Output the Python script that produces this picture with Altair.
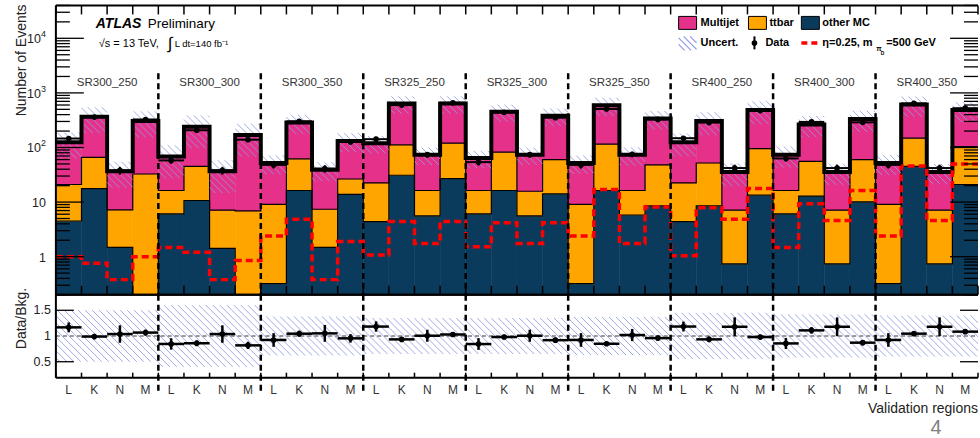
import math
import altair as alt
import pandas as pd

# ---------------------------------------------------------------------------
# Validation-region yields: four bins (L, K, N, M) per signal region
# ---------------------------------------------------------------------------
regions = ["SR300_250", "SR300_300", "SR300_350",
           "SR325_250", "SR325_300", "SR325_350",
           "SR400_250", "SR400_300", "SR400_350"]
bin_labels = ["L", "K", "N", "M"]

multijet = [104, 299, 29.4, 273, 52.3, 196, 29.5, 163, 42.9, 226, 31.6, 105.5,
            97.6, 528, 57.3, 520, 47.7, 369, 57.8, 322, 42.9, 482, 57.3, 293,
            102.6, 254, 28.5, 389, 57.3, 209.4, 28.5, 272, 42.9, 465, 28.5, 380]
ttbar = [16.5, 48.3, 5.72, 32.6, 10.2, 34.3, 5.68, 6.8, 8.78, 45.7, 5.92, 12.7,
         18, 81, 10.7, 93, 10.2, 65.7, 10.2, 45.8, 8.78, 98.7, 10.5, 39.5,
         18, 43.5, 6.36, 81.6, 10.2, 42.7, 6.36, 49.9, 8.78, 103, 6.36, 83]
other_mc = [4.5, 17.7, 1.48, 0.1, 6.1, 10.7, 1.42, 0.1, 0.32, 16.3, 1.48, 13.8,
            4.4, 31, 5.6, 27, 6.1, 16.3, 5.6, 14.2, 0.32, 16.3, 5.8, 8.5,
            4.4, 8.5, 0.74, 13.4, 6.1, 12.9, 0.74, 10.1, 0.32, 45, 0.74, 21]
# signal: eta = 0.25, m(pi_D) = 500 GeV
signal = [1.0, 0.76, 0.38, 1.0, 1.48, 1.2, 0.38, 0.85, 2.4, 4.85, 0.38, 1.9,
          1.07, 4.4, 1.75, 4.4, 1.52, 4.2, 1.75, 4.2, 2.4, 17, 1.75, 8.1,
          1.04, 7.9, 4.85, 17.7, 1.48, 9.3, 4.6, 16.3, 2.4, 46, 4.6, 50]
data_obs = [146, 361, 38, 326, 58, 207, 38, 139, 48, 301, 41, 126,
            142, 598, 74, 659, 54, 442, 74, 351, 48, 507, 75, 327,
            148, 286, 42, 474, 63, 294, 42, 289, 48, 641, 42, 525]
data_err = [12, 19, 6.2, 18, 7.6, 14, 6.2, 12, 6.9, 17, 6.4, 11,
            12, 24, 8.6, 26, 7.3, 21, 8.6, 19, 6.9, 23, 8.7, 18,
            12, 17, 6.5, 22, 7.9, 17, 6.5, 17, 6.9, 25, 6.5, 23]
# relative background uncertainty, one value per signal region
bkg_unc = [0.5, 0.6, 0.38, 0.35, 0.35, 0.37, 0.45, 0.42, 0.4]

# ---------------------------------------------------------------------------
# Geometry and style
# ---------------------------------------------------------------------------
n_bins = len(multijet)
W, H, HR = 924, 290, 83
Y_MIN, Y_MAX = 0.2, 4.0e4
R_MIN, R_MAX = 0.19, 1.8
BW = W / n_bins
LOG_HI = math.log10(Y_MAX)
LOG_SPAN = LOG_HI - math.log10(Y_MIN)

FONT = "Liberation Sans"
PINK = "#e6318a"
ORANGE = "#fea500"
NAVY = "#0b3b5c"
HATCH = "#8e99e2"
RED = "#ff0000"
TXT = "#222222"

# ---------------------------------------------------------------------------
# Tables
# ---------------------------------------------------------------------------
rows = []
for i in range(n_bins):
    c_other = other_mc[i]
    c_tt = c_other + ttbar[i]
    total = c_tt + multijet[i]
    rows.append({
        "x0": i, "x1": i + 1, "xc": i + 0.5,
        "cum_other": c_other, "cum_tt": c_tt, "total": total,
        "data": data_obs[i],
        "d_lo": data_obs[i] - data_err[i], "d_hi": data_obs[i] + data_err[i],
        "ratio": data_obs[i] / total,
        "r_lo": (data_obs[i] - data_err[i]) / total,
        "r_hi": (data_obs[i] + data_err[i]) / total,
        "unc": bkg_unc[i // 4],
        "label": bin_labels[i % 4],
    })
bins = pd.DataFrame(rows)


def step_frame(values):
    vals = list(values)
    return pd.DataFrame({"edge": list(range(n_bins + 1)), "level": vals + [vals[-1]]})


def py_main(v):
    return H * (LOG_HI - math.log10(v)) / LOG_SPAN


def val_main(py):
    return 10 ** (LOG_HI - py / H * LOG_SPAN)


def py_ratio(r):
    return HR * (R_MAX - r) / (R_MAX - R_MIN)


def val_ratio(py):
    return R_MAX - py / HR * (R_MAX - R_MIN)


def hatch_lines(x_lo, x_hi, y_top, y_bot, spacing=7.0):
    """Diagonal hatch segments (screen y - x = const) clipped to a box, in pixels."""
    out = []
    k0 = math.floor((y_top - x_hi) / spacing) - 1
    k1 = math.ceil((y_bot - x_lo) / spacing) + 1
    for k in range(k0, k1 + 1):
        c = k * spacing
        xa = max(x_lo, y_top - c)
        xb = min(x_hi, y_bot - c)
        if xb - xa > 0.4:
            out.append((xa, xa + c, xb, xb + c))
    return out


main_hatch, ratio_hatch = [], []
for r in rows:
    i = r["x0"]
    top = py_main(r["total"] * (1 + r["unc"]))
    bot = py_main(r["total"] * (1 - r["unc"]))
    for xa, ya, xb, yb in hatch_lines(i * BW, (i + 1) * BW, top, bot):
        main_hatch.append({"xa": xa / BW, "xb": xb / BW, "ya": val_main(ya), "yb": val_main(yb)})
    top = py_ratio(1 + r["unc"])
    bot = py_ratio(1 - r["unc"])
    for xa, ya, xb, yb in hatch_lines(i * BW, (i + 1) * BW, top, bot):
        ratio_hatch.append({"xa": xa / BW, "xb": xb / BW, "ya": val_ratio(ya), "yb": val_ratio(yb)})
main_hatch = pd.DataFrame(main_hatch)
ratio_hatch = pd.DataFrame(ratio_hatch)

edges = pd.DataFrame({"edge": list(range(n_bins + 1))})
separators = pd.DataFrame({"edge": [4 * g for g in range(1, len(regions))]})
region_df = pd.DataFrame({"region": regions, "xc": [4 * g + 2 for g in range(len(regions))]})

decades = [1, 10, 100, 1000, 10000]
minor = [m * 10 ** k for k in range(-1, 5) for m in range(2, 10) if Y_MIN <= m * 10 ** k <= Y_MAX]
major_df = pd.DataFrame({"v": decades})
minor_df = pd.DataFrame({"v": minor})
plain_lab = pd.DataFrame({"v": [1, 10], "t": ["1", "10"]})
power_lab = pd.DataFrame({"v": [100, 1000, 10000], "t": ["10"] * 3, "e": ["2", "3", "4"]})
ratio_lab = pd.DataFrame({"v": [1.5, 1.0, 0.5], "t": ["1.5", "1", "0.5"]})
ratio_ticks = pd.DataFrame({"v": [0.5, 1.5]})
one = pd.DataFrame({"k": [0]})

# ---------------------------------------------------------------------------
# Encoding helpers
# ---------------------------------------------------------------------------
xs = alt.Scale(domain=[0, n_bins], nice=False, zero=False)
ys_main = alt.Scale(type="log", domain=[Y_MIN, Y_MAX], nice=False)
ys_ratio = alt.Scale(domain=[R_MIN, R_MAX], nice=False, zero=False)


def X(f):
    return alt.X(f, type="quantitative", scale=xs, axis=None)


def YM(f):
    return alt.Y(f, type="quantitative", scale=ys_main, axis=None)


def YR(f):
    return alt.Y(f, type="quantitative", scale=ys_ratio, axis=None)


def PX(f):
    return alt.X(f, type="quantitative", scale=None, axis=None)


def PY(f):
    return alt.Y(f, type="quantitative", scale=None, axis=None)


def text(t, x, y, size, weight="normal", style="normal", align="left",
         baseline="middle", color="black", angle=0):
    return alt.Chart(one).mark_text(
        text=t, font=FONT, fontSize=size, fontWeight=weight, fontStyle=style,
        align=align, baseline=baseline, color=color, angle=angle,
    ).encode(x=alt.value(x), y=alt.value(y))


def hrule(x, x2, y, width=2.0, color="black"):
    return alt.Chart(one).mark_rule(color=color, strokeWidth=width).encode(
        x=alt.value(x), x2=alt.value(x2), y=alt.value(y))


def vrule(x, y, y2, width=2.0, color="black"):
    return alt.Chart(one).mark_rule(color=color, strokeWidth=width).encode(
        x=alt.value(x), y=alt.value(y), y2=alt.value(y2))


base = alt.Chart(bins)

# ---------------------------------------------------------------------------
# Upper panel: stacked background, uncertainty, data, signal
# ---------------------------------------------------------------------------
fill_other = base.mark_rect(color=NAVY, stroke=NAVY, strokeWidth=0.5, clip=True).encode(
    x=X("x0"), x2=alt.X2("x1"), y=YM("cum_other"), y2=alt.value(H))
fill_tt = base.mark_rect(color=ORANGE, stroke=ORANGE, strokeWidth=0.5, clip=True).encode(
    x=X("x0"), x2=alt.X2("x1"), y=YM("cum_tt"), y2=alt.Y2("cum_other"))
fill_mj = base.mark_rect(color=PINK, stroke=PINK, strokeWidth=0.5, clip=True).encode(
    x=X("x0"), x2=alt.X2("x1"), y=YM("total"), y2=alt.Y2("cum_tt"))

edge_other = alt.Chart(step_frame(bins["cum_other"])).mark_line(
    interpolate="step-after", color="black", strokeWidth=1.2, clip=True).encode(
    x=X("edge"), y=YM("level"))
edge_tt = alt.Chart(step_frame(bins["cum_tt"])).mark_line(
    interpolate="step-after", color="black", strokeWidth=1.2, clip=True).encode(
    x=X("edge"), y=YM("level"))

unc_main = alt.Chart(main_hatch).mark_rule(color=HATCH, strokeWidth=1, opacity=0.85, clip=True).encode(
    x=X("xa"), x2=alt.X2("xb"), y=YM("ya"), y2=alt.Y2("yb"))

total_line = alt.Chart(step_frame(bins["total"])).mark_line(
    interpolate="step-after", color="black", strokeWidth=4, clip=True).encode(
    x=X("edge"), y=YM("level"))

signal_line = alt.Chart(step_frame(signal)).mark_line(
    interpolate="step-after", color=RED, strokeWidth=3.5, strokeDash=[7, 4], clip=True).encode(
    x=X("edge"), y=YM("level"))

data_xerr = base.mark_rule(color="black", strokeWidth=2).encode(
    x=X("x0"), x2=alt.X2("x1"), y=YM("data"))
data_yerr = base.mark_rule(color="black", strokeWidth=2).encode(
    x=X("xc"), y=YM("d_lo"), y2=alt.Y2("d_hi"))
data_pts = base.mark_circle(color="black", size=32, opacity=1).encode(
    x=X("xc"), y=YM("data"))

sep_main = alt.Chart(separators).mark_rule(color="black", strokeWidth=2.5, strokeDash=[6, 4]).encode(
    x=X("edge"), y=alt.value(68), y2=alt.value(H))
region_text = alt.Chart(region_df).mark_text(font=FONT, fontSize=11.5, color="#333333").encode(
    x=X("xc"), y=alt.value(78), text="region:N")

# frame and inward ticks
frame_main = [hrule(0, W, 0), hrule(0, W, H), vrule(0, 0, H)]
xt_top = alt.Chart(edges).mark_rule(color="black", strokeWidth=1.5).encode(
    x=X("edge"), y=alt.value(0), y2=alt.value(9))
xt_bot = alt.Chart(edges).mark_rule(color="black", strokeWidth=1.5).encode(
    x=X("edge"), y=alt.value(H - 9), y2=alt.value(H))


def ytick(df, x, x2, yenc):
    return alt.Chart(df).mark_rule(color="black", strokeWidth=1.3).encode(
        x=alt.value(x), x2=alt.value(x2), y=yenc)


yt_main = [ytick(major_df, 0, 28, YM("v")), ytick(minor_df, 0, 14, YM("v")),
           ytick(major_df, W - 28, W, YM("v")), ytick(minor_df, W - 14, W, YM("v"))]

lab_plain = alt.Chart(plain_lab).mark_text(font=FONT, fontSize=12.5, align="right", color=TXT, dy=1).encode(
    x=alt.value(-10), y=YM("v"), text="t:N")
lab_base = alt.Chart(power_lab).mark_text(font=FONT, fontSize=12.5, align="right", color=TXT, dy=1).encode(
    x=alt.value(-15), y=YM("v"), text="t:N")
lab_exp = alt.Chart(power_lab).mark_text(font=FONT, fontSize=9, align="left", color=TXT, dy=-4).encode(
    x=alt.value(-15), y=YM("v"), text="e:N")
title_main = text("Number of Events", -30, -1, 14, align="right", baseline="alphabetic",
                  color=TXT, angle=270)

# ATLAS label
atlas = [
    text("ATLAS", 40, 18.5, 14, weight="bold", style="italic"),
    text("Preliminary", 92, 18.5, 13.5),
    text("\u221as = 13 TeV,", 43, 38.5, 11),
    text("\u222b", 112, 39, 17),
    text("L dt=140 fb\u207b\u00b9", 119, 38.5, 9.5),
]

# legend
leg_boxes = pd.DataFrame({
    "xa": [624, 694, 747], "xb": [642, 712, 765],
    "ya": [11, 11, 11], "yb": [24, 24, 24],
    "fill": [PINK, ORANGE, NAVY],
})
legend_boxes = alt.Chart(leg_boxes).mark_rect(stroke="black", strokeWidth=1).encode(
    x=PX("xa"), x2=alt.X2("xb"), y=PY("ya"), y2=alt.Y2("yb"),
    color=alt.Color("fill:N", scale=None))
leg_hatch = pd.DataFrame([{"xa": a, "ya": b, "xb": c, "yb": d}
                          for a, b, c, d in hatch_lines(624, 642, 31, 45, spacing=6.5)])
legend_hatch = alt.Chart(leg_hatch).mark_rule(color=HATCH, strokeWidth=1.2).encode(
    x=PX("xa"), x2=alt.X2("xb"), y=PY("ya"), y2=alt.Y2("yb"))
legend_items = [
    legend_boxes, legend_hatch,
    text("Multijet", 646, 17.5, 11, weight="bold"),
    text("ttbar", 715, 17.5, 11, weight="bold"),
    text("other MC", 768, 17.5, 11, weight="bold"),
    text("Uncert.", 646, 37.7, 11, weight="bold"),
    vrule(700, 31, 44, width=2),
    alt.Chart(one).mark_circle(color="black", size=32, opacity=1).encode(
        x=alt.value(700), y=alt.value(37.7)),
    text("Data", 711, 37.7, 11, weight="bold"),
    alt.Chart(one).mark_rule(color=RED, strokeWidth=3.5, strokeDash=[6, 4]).encode(
        x=alt.value(747), x2=alt.value(765), y=alt.value(37.7)),
    text("\u03b7=0.25, m", 768, 37.7, 11, weight="bold"),
    text("\u03c0", 822, 44, 7, weight="bold"),
    text("D", 826.5, 47.5, 5, weight="bold"),
    text("=500 GeV", 832, 37.7, 11, weight="bold"),
]

main = alt.layer(
    fill_other, fill_tt, fill_mj, edge_other, edge_tt, unc_main, total_line,
    signal_line, data_xerr, data_yerr, data_pts, sep_main, region_text,
    *frame_main, xt_top, xt_bot, *yt_main, lab_plain, lab_base, lab_exp, title_main,
    *atlas, *legend_items,
).properties(width=W, height=H)

# ---------------------------------------------------------------------------
# Lower panel: data / background
# ---------------------------------------------------------------------------
unc_ratio = alt.Chart(ratio_hatch).mark_rule(color=HATCH, strokeWidth=1, opacity=0.85, clip=True).encode(
    x=X("xa"), x2=alt.X2("xb"), y=YR("ya"), y2=alt.Y2("yb"))
unity = alt.Chart(one).mark_rule(color="#333333", strokeWidth=1, strokeDash=[4, 3]).encode(
    x=alt.value(0), x2=alt.value(W), y=YR("k2:Q")).transform_calculate(k2="1")
r_xerr = base.mark_rule(color="black", strokeWidth=2.5).encode(
    x=X("x0"), x2=alt.X2("x1"), y=YR("ratio"))
r_yerr = base.mark_rule(color="black", strokeWidth=2.5).encode(
    x=X("xc"), y=YR("r_lo"), y2=alt.Y2("r_hi"))
r_pts = base.mark_circle(color="black", size=32, opacity=1).encode(
    x=X("xc"), y=YR("ratio"))
sep_ratio = alt.Chart(separators).mark_rule(color="black", strokeWidth=2.5, strokeDash=[6, 4]).encode(
    x=X("edge"), y=alt.value(0), y2=alt.value(HR + 15))
frame_ratio = [hrule(0, W, 0), hrule(0, W, HR), vrule(0, 0, HR)]
xt_ratio = alt.Chart(edges).mark_rule(color="black", strokeWidth=1.5).encode(
    x=X("edge"), y=alt.value(HR - 5), y2=alt.value(HR))
yt_ratio = [ytick(ratio_ticks, 0, 18, YR("v")), ytick(ratio_ticks, W - 18, W, YR("v"))]
bin_text = base.mark_text(font=FONT, fontSize=12, color="#333333").encode(
    x=X("xc"), y=alt.value(HR + 12), text="label:N")
lab_ratio = alt.Chart(ratio_lab).mark_text(font=FONT, fontSize=12.5, align="right", color=TXT).encode(
    x=alt.value(-5), y=YR("v"), text="t:N")
title_ratio = text("Data/Bkg.", -30, -7, 14, align="right", baseline="alphabetic",
                   color=TXT, angle=270)
x_title = text("Validation regions", W, HR + 31.5, 14, align="right", color=TXT)
page_no = text("4", 882, 143, 20, align="center", baseline="bottom", color="#808080")

ratio = alt.layer(
    unc_ratio, unity, r_xerr, r_yerr, r_pts, sep_ratio, *frame_ratio, xt_ratio,
    *yt_ratio, bin_text, lab_ratio, title_ratio, x_title, page_no,
).properties(width=W, height=HR)

chart = alt.vconcat(main, ratio, spacing=0, bounds="flush").properties(
    padding={"left": 14, "top": 3, "right": 0, "bottom": 0}
).configure_view(stroke="transparent")

chart.save("out.html", embed_options={"renderer": "svg", "actions": False})
